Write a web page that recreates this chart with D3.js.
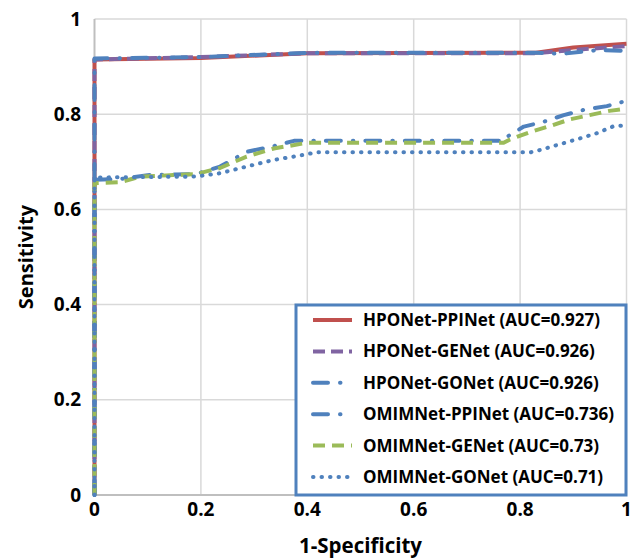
<!DOCTYPE html>
<html>
<head>
<meta charset="utf-8">
<script src="https://cdn.jsdelivr.net/npm/d3@7"></script>
<style>
  body { margin: 0; background: #fff; }
  svg text { font-family: "Open Sans", sans-serif; font-weight: bold; fill: #000; }
</style>
</head>
<body>
<svg id="chart" width="636" height="560"></svg>
<script>
// ROC curves
const seriesNames = [
    'HPONet-PPINet (AUC=0.927)',
    'HPONet-GENet (AUC=0.926)',
    'HPONet-GONet (AUC=0.926)',
    'OMIMNet-PPINet (AUC=0.736)',
    'OMIMNet-GENet (AUC=0.73)',
    'OMIMNet-GONet (AUC=0.71)'
];

// 1-specificity / sensitivity pairs per series
const hpoPpiX = [0, 0, 0.2, 0.4, 0.83, 0.9, 1];
const hpoPpiY = [0, 0.915, 0.918, 0.928, 0.929, 0.94, 0.948];

const hpoGeX = [0, 0, 0.2, 0.4, 0.83, 0.9, 1];
const hpoGeY = [0, 0.915, 0.92, 0.928, 0.928, 0.935, 0.943];

const hpoGoX = [0, 0, 0.2, 0.4, 0.83, 0.88, 0.95, 1];
const hpoGoY = [0, 0.917, 0.92, 0.929, 0.929, 0.927, 0.935, 0.933];

const omimPpiX = [0, 0, 0.05, 0.1, 0.19, 0.236, 0.286, 0.337, 0.375, 0.77, 0.776, 0.807, 0.844, 0.882, 0.919, 0.963, 1];
const omimPpiY = [0, 0.662, 0.664, 0.672, 0.674, 0.69, 0.721, 0.733, 0.744, 0.744, 0.753, 0.774, 0.784, 0.798, 0.809, 0.817, 0.828];

const omimGeX = [0, 0, 0.048, 0.086, 0.19, 0.236, 0.286, 0.337, 0.4, 0.769, 0.781, 0.82, 0.856, 0.893, 0.93, 0.968, 1];
const omimGeY = [0, 0.655, 0.657, 0.669, 0.674, 0.687, 0.711, 0.728, 0.74, 0.74, 0.747, 0.763, 0.775, 0.789, 0.798, 0.807, 0.812];

const omimGoX = [0, 0, 0.19, 0.236, 0.286, 0.337, 0.375, 0.418, 0.82, 0.832, 0.869, 0.906, 0.944, 0.974, 1];
const omimGoY = [0, 0.667, 0.669, 0.676, 0.69, 0.704, 0.711, 0.72, 0.72, 0.723, 0.735, 0.747, 0.76, 0.774, 0.777];

const xTicks = [0, 0.2, 0.4, 0.6, 0.8, 1];
const yTicks = [0, 0.2, 0.4, 0.6, 0.8, 1];

const styles = [
    { color: '#C0504D', dash: null, cap: 'butt' },
    { color: '#8064A2', dash: '12,6', cap: 'butt' },
    { color: '#4F81BD', dash: '15,12,0.5,12', cap: 'round' },
    { color: '#4F81BD', dash: '15,12,0.5,12', cap: 'round' },
    { color: '#9BBB59', dash: '12,7', cap: 'butt' },
    { color: '#4F81BD', dash: '0.5,8', cap: 'round' }
];

const series = [
    [hpoPpiX, hpoPpiY], [hpoGeX, hpoGeY], [hpoGoX, hpoGoY],
    [omimPpiX, omimPpiY], [omimGeX, omimGeY], [omimGoX, omimGoY]
];

const svg = d3.select('#chart');
const x = d3.scaleLinear().domain([0, 1]).range([94.5, 626.5]);
const y = d3.scaleLinear().domain([0, 1]).range([495, 19]);

// gridlines
svg.append('g')
    .selectAll('line')
    .data(xTicks.slice(1))
    .enter().append('line')
    .attr('x1', d => x(d)).attr('x2', d => x(d))
    .attr('y1', y(0)).attr('y2', y(1))
    .attr('stroke', '#D9D9D9').attr('stroke-width', 1.5);

svg.append('g')
    .selectAll('line')
    .data(yTicks.slice(1))
    .enter().append('line')
    .attr('x1', x(0)).attr('x2', x(1))
    .attr('y1', d => y(d)).attr('y2', d => y(d))
    .attr('stroke', '#D9D9D9').attr('stroke-width', 1.5);

// axis lines
svg.append('line')
    .attr('x1', x(0)).attr('x2', x(0)).attr('y1', y(0)).attr('y2', y(1))
    .attr('stroke', '#BFBFBF').attr('stroke-width', 2);
svg.append('line')
    .attr('x1', x(0)).attr('x2', x(1)).attr('y1', y(0)).attr('y2', y(0))
    .attr('stroke', '#BFBFBF').attr('stroke-width', 2);

// tick labels
svg.append('g')
    .selectAll('text')
    .data(xTicks)
    .enter().append('text')
    .attr('x', d => x(d)).attr('y', y(0) + 21)
    .attr('text-anchor', 'middle')
    .style('font-size', '19px')
    .text(d => d3.format('~g')(d));

svg.append('g')
    .selectAll('text')
    .data(yTicks)
    .enter().append('text')
    .attr('x', 81).attr('y', d => y(d) + 6.5)
    .attr('text-anchor', 'end')
    .style('font-size', '19px')
    .text(d => d3.format('~g')(d));

// axis titles
svg.append('text')
    .attr('transform', `translate(33,${(y(0) + y(1)) / 2}) rotate(-90)`)
    .attr('text-anchor', 'middle')
    .style('font-size', '20px')
    .text('Sensitivity');

svg.append('text')
    .attr('x', (x(0) + x(1)) / 2).attr('y', 553)
    .attr('text-anchor', 'middle')
    .style('font-size', '20.5px')
    .text('1-Specificity');

// curves
const line = d3.line().x(d => x(d[0])).y(d => y(d[1]));

series.forEach((s, i) => {
    const pts = s[0].map((v, k) => [v, s[1][k]]);
    svg.append('path')
        .datum(pts)
        .attr('d', line)
        .attr('fill', 'none')
        .attr('stroke', styles[i].color)
        .attr('stroke-width', 4)
        .attr('stroke-linecap', styles[i].cap)
        .attr('stroke-linejoin', 'round')
        .attr('stroke-dasharray', styles[i].dash);
});

// legend
const legend = svg.append('g');
legend.append('rect')
    .attr('x', 296).attr('y', 305)
    .attr('width', 330).attr('height', 190)
    .attr('fill', '#fff')
    .attr('stroke', '#4F81BD').attr('stroke-width', 3);

seriesNames.forEach((name, i) => {
    const ly = 320 + i * 31.4;
    legend.append('line')
        .attr('x1', 313).attr('x2', 352)
        .attr('y1', ly).attr('y2', ly)
        .attr('stroke', styles[i].color)
        .attr('stroke-width', 4)
        .attr('stroke-linecap', styles[i].cap)
        .attr('stroke-dasharray', styles[i].dash);
    legend.append('text')
        .attr('x', 363).attr('y', ly + 6)
        .style('font-size', '17px')
        .text(name);
});
</script>
</body>
</html>
